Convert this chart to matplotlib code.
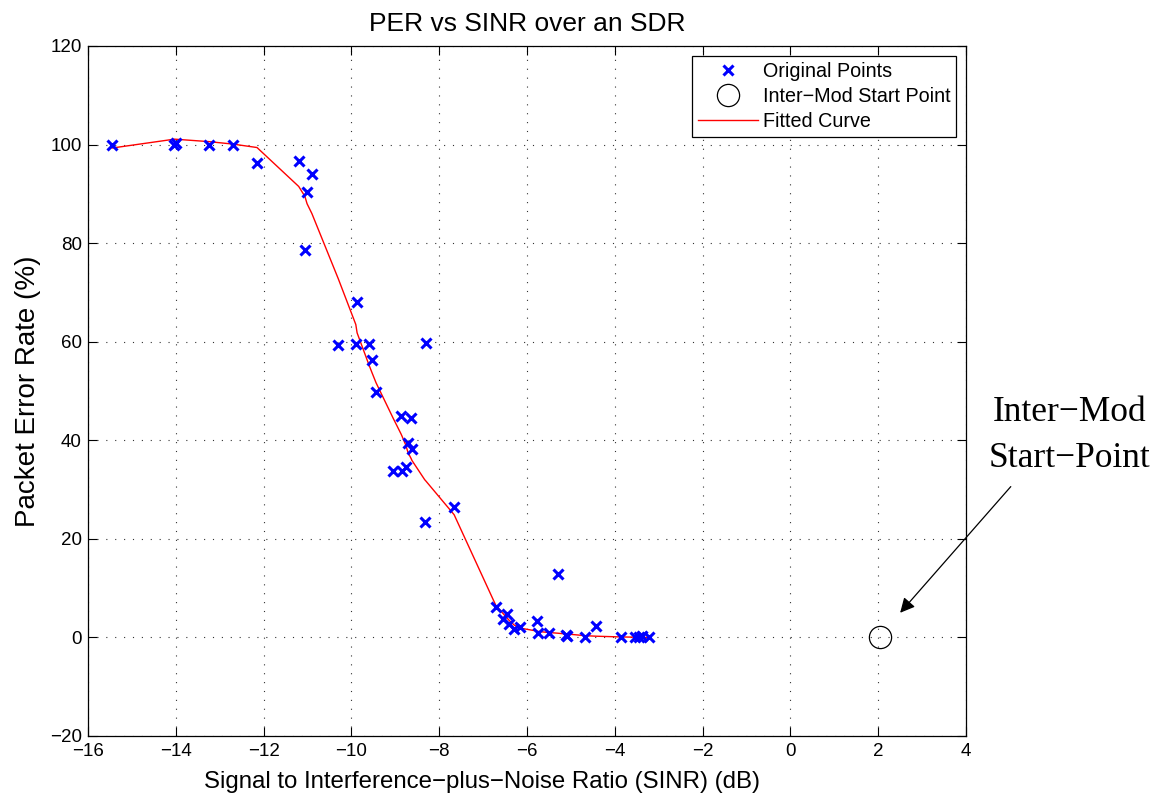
import matplotlib
matplotlib.use("Agg")
import matplotlib.pyplot as plt

# measured points (SINR dB, PER %)
sinr = [-15.45, -14.03, -14.0, -13.25, -12.7, -12.15, -11.2, -10.9, -11.01, -11.06,
        -9.87, -10.3, -9.9, -9.6, -9.53, -9.44, -8.3, -8.87, -8.64, -8.71,
        -8.62, -9.05, -8.85, -8.76, -7.66, -8.33, -6.71, -6.46, -6.54, -6.40,
        -6.29, -6.16, -5.78, -5.74, -5.50, -5.12, -5.09, -5.29, -4.67, -4.43,
        -3.87, -3.53, -3.45, -3.39, -3.21]
per = [100, 100, 100.3, 100, 100, 96.3, 96.6, 94, 90.4, 78.6,
       68, 59.4, 59.6, 59.6, 56.3, 49.8, 59.8, 45, 44.6, 39.5,
       38.2, 33.8, 33.8, 34.6, 26.5, 23.5, 6.2, 4.7, 3.8, 2.8,
       1.8, 2.2, 3.3, 1.0, 0.9, 0.5, 0.2, 12.9, 0.1, 2.4,
       0, 0, 0.1, 0.3, 0]

# fitted curve
fit_x = [-15.45, -14.03, -13.25, -12.7, -12.15, -11.2, -11.06, -11.01, -10.9, -10.3,
         -9.9, -9.87, -9.6, -9.53, -9.44, -9.05, -8.87, -8.85, -8.76, -8.71,
         -8.64, -8.62, -8.33, -8.3, -7.66, -6.71, -6.54, -6.46, -6.40, -6.29,
         -6.16, -5.78, -5.74, -5.50, -5.29, -5.12, -5.09, -4.67, -4.43, -3.87,
         -3.53, -3.45, -3.39, -3.21]
fit_y = [99.3, 101.1, 100.6, 100.1, 99.4, 91.5, 89.5, 88.0, 86.0, 72.8,
         63.5, 61.8, 55.3, 53.7, 51.7, 44.5, 41.3, 40.9, 39.0, 37.5,
         36.3, 35.9, 32.0, 31.7, 24.9, 6.5, 4.8, 4.0, 3.4, 2.5,
         1.9, 1.3, 1.2, 1.0, 0.85, 0.7, 0.7, 0.35, 0.25, 0.1,
         0.05, 0.05, 0.0, 0.0]

# inter-mod start point
im_x = [2.05]
im_y = [0]

plt.rcParams['font.family'] = ['Liberation Sans', 'DejaVu Sans']

fig = plt.figure(figsize=(11.56, 7.97), dpi=100)
ax = fig.add_axes([88/1156, 1-736/797, 878/1156, 690/797])

ax.plot(sinr, per, 'x', color='blue', markersize=7, mew=2.2, label='Original Points', zorder=3)
ax.plot(im_x, im_y, 'o', mfc='none', mec='black', markersize=16, mew=0.9,
        label='Inter\u2212Mod Start Point', zorder=3)
ax.plot(fit_x, fit_y, '-', color='red', lw=1.0, label='Fitted Curve', zorder=2)

ax.set_xlim(-16, 4)
ax.set_ylim(-20, 120)
ax.set_xticks(range(-16, 5, 2))
ax.set_yticks(range(-20, 121, 20))
ax.grid(True, color='#333333', linestyle=':', linewidth=0.8, dashes=(1, 7))
ax.tick_params(direction='in', top=True, right=True, length=6.5, width=0.8,
               labelsize=13.5)
ax.tick_params(axis='x', pad=5)
ax.tick_params(axis='y', pad=4.5)
for s in ax.spines.values():
    s.set_linewidth(0.9)

ax.set_title('PER vs SINR over an SDR', fontsize=19, pad=10.5)
ax.set_xlabel('Signal to Interference\u2212plus\u2212Noise Ratio (SINR) (dB)', fontsize=17.3)
ax.set_ylabel('Packet Error Rate (%)', fontsize=20)
ax.xaxis.set_label_coords(0.449, -0.051)
ax.yaxis.set_label_coords(-0.053, 0.5)

leg = ax.legend(loc='upper right', fontsize=14.2, handlelength=3.05, handletextpad=0.25,
                borderaxespad=0.5, borderpad=0.3, fancybox=False, edgecolor='black',
                framealpha=1, labelspacing=0.3)
leg.get_frame().set_linewidth(0.9)

# annotation outside the axes
ax.annotate('', xy=(2.5, 5.0), xytext=(5.02, 30.6), annotation_clip=False,
            arrowprops=dict(arrowstyle='-|>', color='black', lw=0.9,
                            mutation_scale=22, shrinkA=0, shrinkB=0))
ax.text(6.35, 44.0, 'Inter\u2212Mod', family=['Liberation Serif', 'DejaVu Serif'],
        fontsize=25.5, ha='center', va='baseline', clip_on=False)
ax.text(6.35, 34.6, 'Start\u2212Point', family=['Liberation Serif', 'DejaVu Serif'],
        fontsize=25.5, ha='center', va='baseline', clip_on=False)

fig.savefig('out.png', dpi=100)
